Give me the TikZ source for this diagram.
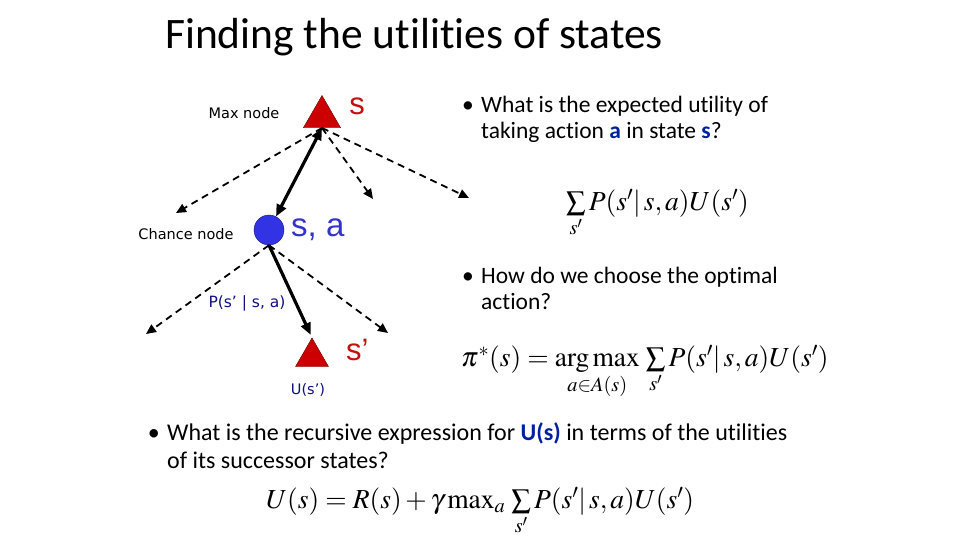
\documentclass[tikz,border=0pt]{standalone}
\usepackage{mathptmx}
\usepackage[no-math]{fontspec}
\setmainfont{Carlito}[Ligatures=NoCommon]
\newfontfamily\tagfont{DejaVu Sans}
\newfontfamily\statefont{Liberation Sans}
\usetikzlibrary{shapes.geometric,arrows.meta,positioning,calc}

\definecolor{maxred}{RGB}{204,0,0}
\definecolor{statered}{RGB}{192,16,16}
\definecolor{chanceblue}{RGB}{51,51,230}
\definecolor{pairblue}{RGB}{51,51,204}
\definecolor{tagnavy}{RGB}{16,16,128}
\definecolor{keyblue}{RGB}{0,32,160}

\begin{document}
\begin{tikzpicture}[
    x=1pt, y=-1pt,
    maxnode/.style={regular polygon, regular polygon sides=3, draw=maxred!50!black, fill=maxred, inner sep=0pt, minimum size=43pt},
    smallmax/.style={maxnode, minimum size=38pt},
    chancenode/.style={circle, draw=chanceblue!50!black, fill=chanceblue, inner sep=0pt, minimum size=30pt},
    tag/.style={font=\tagfont\fontsize{14.5}{17}\selectfont},
    navytag/.style={tag, text=tagnavy},
    statelabel/.style={font=\statefont\fontsize{31}{34}\selectfont, inner sep=0pt},
    question/.style={font=\fontsize{23.5}{26}\selectfont, align=left, inner sep=0pt},
    formula/.style={font=\fontsize{27.5}{30}\selectfont, inner sep=0pt},
    option/.style={-{Triangle[length=10pt,width=9pt]}, dashed, dash pattern=on 7pt off 5pt, line width=1.8pt},
    choice/.style={-{Triangle[length=12pt,width=10pt]}, line width=3.2pt}
]
\useasboundingbox (0,0) rectangle (960,540);

% Title
\node[font=\fontsize{43.5}{46}\selectfont, anchor=base west, inner sep=0pt] (title) at (165,49) {Finding the utilities of states};

% Tree nodes
\node[maxnode] (s) at (322,117) {};
\node[chancenode] (sa) at (269,230) {};
\node[smallmax] (sp) at (312,357) {};

% Node labels
\node[statelabel, text=statered] (slabel) at (357,106) {s};
\node[statelabel, text=pairblue, anchor=west, font=\statefont\fontsize{33}{36}\selectfont] (salabel) at (291,230) {s, a};
\node[statelabel, text=statered, anchor=west] (splabel) at (346,350) {s’};
\node[tag] (maxtag) at (244,113) {Max node};
\node[tag] (chancetag) at (186,234) {Chance node};
\node[navytag, font=\tagfont\fontsize{15.5}{18}\selectfont] (probtag) at (247,303) {P(s’ | s, a)};
\node[navytag] (utiltag) at (308,390) {U(s’)};

% Free ends of the other actions and outcomes
\coordinate (a1) at (176,213);
\coordinate (a2) at (373,199);
\coordinate (a3) at (469,198);
\coordinate (o1) at (146,334);
\coordinate (o2) at (388,333);

% Connectors
\draw[option] (s.south) -- (a1);
\draw[option] (s.south) -- (a2);
\draw[option] (s.south) -- (a3);
\draw[choice, {Triangle[length=12pt,width=10pt]}-{Triangle[length=12pt,width=10pt]}] (s.south) -- (sa);
\draw[option] (sa.south) -- (o1);
\draw[option] (sa.south) -- (o2);
\draw[choice, shorten >=3pt] (sa.south) -- (sp.north);

% Questions (base anchor sits on the last line)
\node[question, anchor=base west] (q1) at (481,139) {What is the expected utility of\\taking action \textcolor{keyblue}{\textbf{a}} in state \textcolor{keyblue}{\textbf{s}}?};
\node[question, anchor=base east] (b1) at (474,113) {\textbullet};
\node[formula, anchor=base west] (f1) at (566,210) {$\sum\limits_{s'} P(s'|\,s,a)U(s')$};

\node[question, anchor=base west] (q2) at (481,309) {How do we choose the optimal\\action?};
\node[question, anchor=base east] (b2) at (474,283) {\textbullet};
\node[formula, anchor=base west] (f2) at (461,366) {$\pi^*(s)=\mathop{\mathrm{arg\,max}}\limits_{a\in A(s)}\,\sum\limits_{s'} P(s'|\,s,a)U(s')$};

\node[question, font=\fontsize{24}{28}\selectfont, anchor=base west] (q3) at (167,468) {What is the recursive expression for \textcolor{keyblue}{\textbf{U(s)}} in terms of the utilities\\of its successor states?};
\node[question, font=\fontsize{24}{28}\selectfont, anchor=base east] (b3) at (160,440) {\textbullet};
\node[formula, anchor=base west] (f3) at (266,508) {$U(s)=R(s)+\gamma\max\nolimits_a\,\sum\limits_{s'} P(s'|\,s,a)U(s')$};
\end{tikzpicture}
\end{document}
